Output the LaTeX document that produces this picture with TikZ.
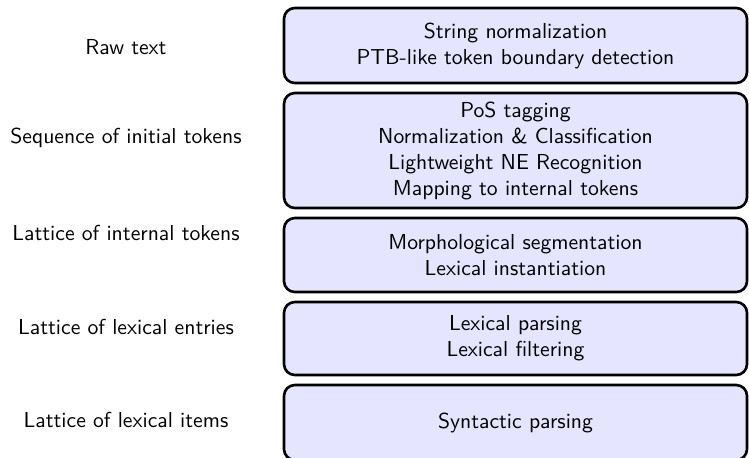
\documentclass[tikz,border=0pt]{standalone}
\newcommand\pxu{0.4615pt}
\tikzset{
  stagebox/.style={draw=black, line width=1.2pt, fill=blue!10, rounded corners=5pt,
    align=center, font=\sffamily, inner sep=0pt, minimum width=463*\pxu},
  lbl/.style={font=\sffamily, align=center, inner sep=0pt}
}
\begin{document}
\begin{tikzpicture}[x=0.4615pt, y=-0.4615pt]
\useasboundingbox (0,0) rectangle (749,457);
\node[stagebox, minimum height=75*\pxu] (s1) at (515.5,45.5)
  {String normalization\\PTB-like token boundary detection};
\node[stagebox, minimum height=115*\pxu] (s2) at (515.5,150.5)
  {PoS tagging\\Normalization \& Classification\\Lightweight NE Recognition\\Mapping to internal tokens};
\node[stagebox, minimum height=74*\pxu] (s3) at (515.5,255)
  {Morphological segmentation\\Lexical instantiation};
\node[stagebox, minimum height=73*\pxu] (s4) at (515.5,338.5)
  {Lexical parsing\\Lexical filtering};
\node[stagebox, minimum height=75*\pxu] (s5) at (515.5,422.5)
  {Syntactic parsing};
\node[lbl] (l1) at (126,47) {Raw text};
\node[lbl] (l2) at (126,138) {Sequence of initial tokens};
\node[lbl] (l3) at (126,233) {Lattice of internal tokens};
\node[lbl] (l4) at (126,327) {Lattice of lexical entries};
\node[lbl] (l5) at (126,420) {Lattice of lexical items};
\end{tikzpicture}
\end{document}
